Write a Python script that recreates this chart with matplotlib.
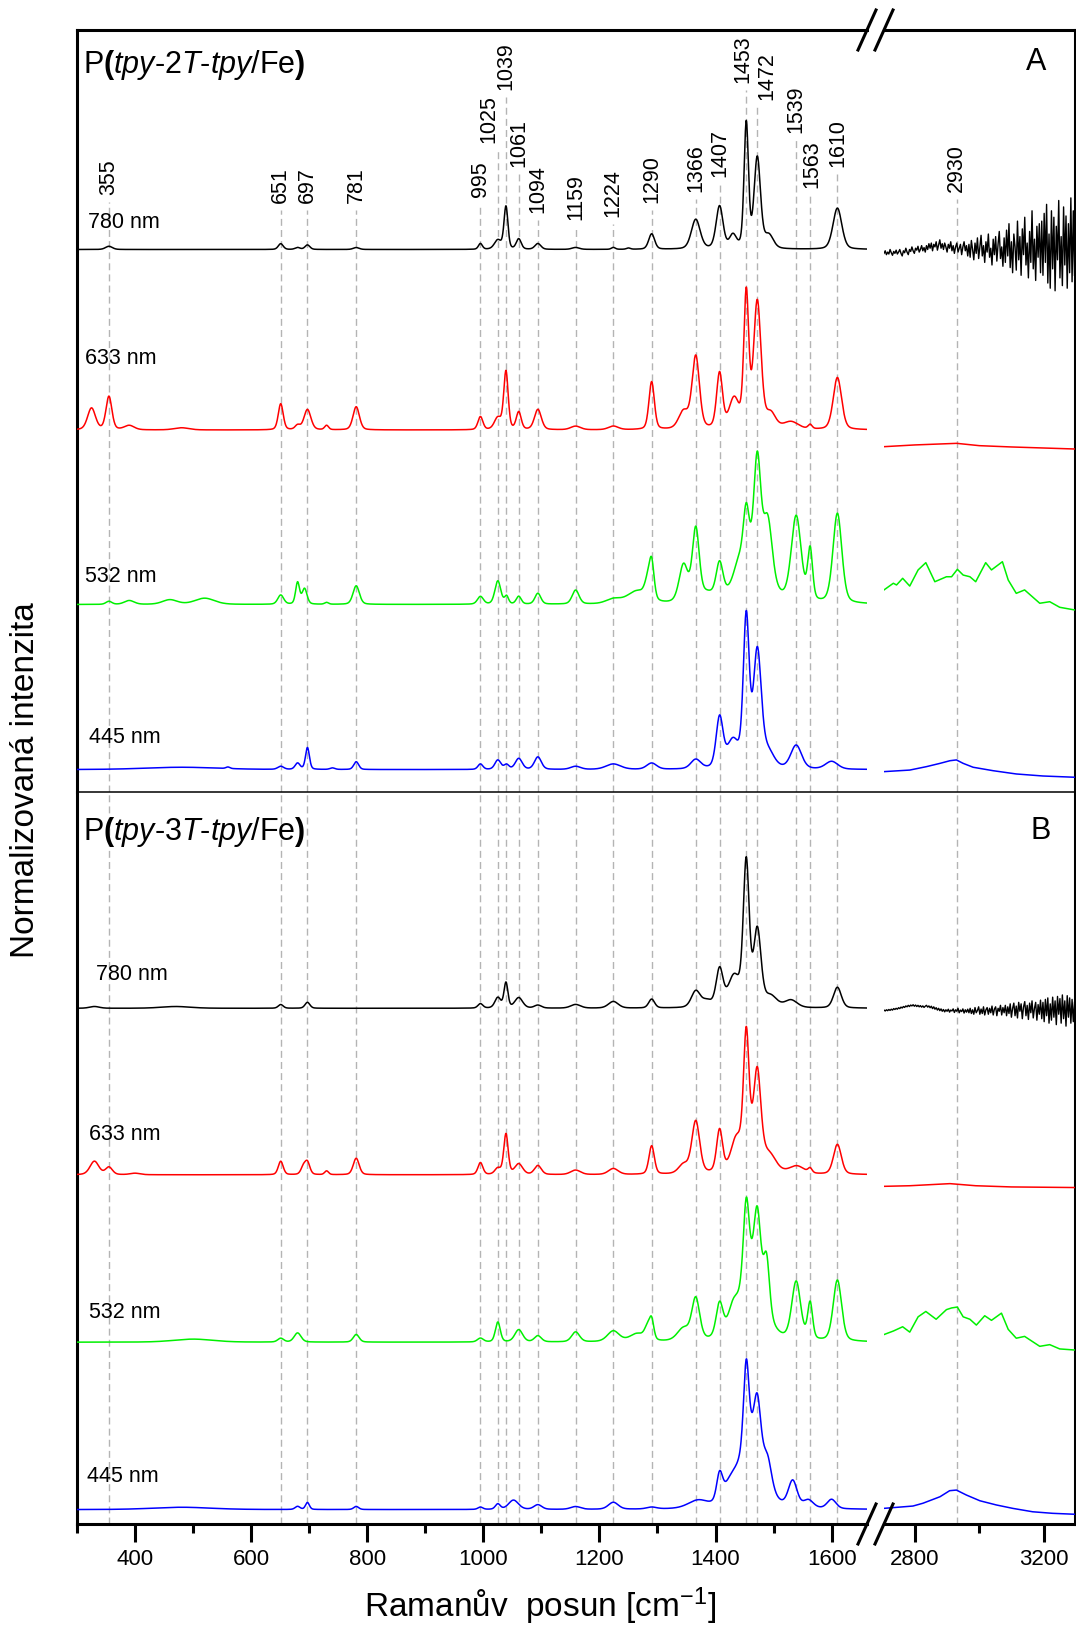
import numpy as np
import matplotlib
matplotlib.use("Agg")
import matplotlib.pyplot as plt
from matplotlib.lines import Line2D

plt.rcParams["font.family"] = ["Liberation Sans", "DejaVu Sans"]
plt.rcParams["mathtext.fontset"] = "custom"
plt.rcParams["mathtext.rm"] = "Liberation Sans"
plt.rcParams["mathtext.it"] = "Liberation Sans:italic"
plt.rcParams["mathtext.bf"] = "Liberation Sans:bold"

# ---------------------------------------------------------------- data
lasers = ["780 nm", "633 nm", "532 nm", "445 nm"]
colors = ["black", "#ff0000", "#00f000", "#0000ff"]

peak_labels = [355, 651, 697, 781, 995, 1025, 1039, 1061, 1094, 1159, 1224,
               1290, 1366, 1407, 1453, 1472, 1539, 1563, 1610]
high_label = 2930

# panel A, P(tpy-2T-tpy/Fe): peak position, height, fwhm
a780_pos = [355, 651, 680, 697, 781, 995, 1025, 1039, 1061, 1094, 1159, 1224, 1250,
            1290, 1366, 1407, 1430, 1453, 1472, 1492, 1610]
a780_h = [0.025, 0.045, 0.015, 0.035, 0.015, 0.045, 0.07, 0.33, 0.08, 0.045, 0.015,
          0.015, 0.01, 0.12, 0.23, 0.33, 0.10, 0.97, 0.70, 0.10, 0.32]
a780_w = [14, 10, 10, 10, 12, 8, 14, 8, 10, 12, 15, 8, 8, 12, 18, 14, 14, 9, 13, 18, 18]

a633_pos = [325, 355, 390, 480, 651, 680, 697, 730, 781, 995, 1025, 1039, 1061, 1094,
            1159, 1224, 1290, 1345, 1366, 1407, 1432, 1453, 1472, 1495, 1530, 1563, 1610]
a633_h = [0.15, 0.23, 0.03, 0.015, 0.18, 0.03, 0.14, 0.03, 0.16, 0.09, 0.08, 0.40, 0.12,
          0.14, 0.025, 0.025, 0.33, 0.12, 0.50, 0.38, 0.20, 0.92, 0.87, 0.10, 0.05, 0.03,
          0.36]
a633_w = [16, 12, 20, 30, 10, 10, 14, 8, 13, 10, 14, 9, 10, 14, 20, 20, 11, 20, 15, 12,
          20, 10, 15, 20, 30, 8, 17]

a532_pos = [355, 390, 460, 520, 651, 680, 692, 730, 781, 995, 1025, 1040, 1061, 1094,
            1159, 1224, 1265, 1283, 1290, 1345, 1366, 1385, 1407, 1440, 1462, 1453, 1472,
            1490, 1539, 1563, 1610]
a532_h = [0.02, 0.025, 0.03, 0.04, 0.06, 0.14, 0.10, 0.012, 0.12, 0.05, 0.15, 0.05, 0.05,
          0.07, 0.09, 0.03, 0.08, 0.10, 0.23, 0.24, 0.46, 0.05, 0.22, 0.10, 0.25, 0.35,
          0.70, 0.40, 0.55, 0.33, 0.58]
a532_w = [12, 20, 30, 40, 12, 8, 10, 8, 13, 12, 12, 8, 10, 12, 14, 30, 40, 12, 10, 18,
          14, 30, 14, 20, 60, 12, 14, 18, 20, 10, 18]

a445_pos = [480, 560, 651, 680, 697, 740, 781, 995, 1025, 1040, 1061, 1094, 1159, 1224,
            1290, 1366, 1407, 1430, 1453, 1472, 1490, 1539, 1600]
a445_h = [0.015, 0.01, 0.02, 0.04, 0.14, 0.01, 0.05, 0.035, 0.06, 0.03, 0.07, 0.08, 0.02,
          0.035, 0.04, 0.06, 0.32, 0.17, 0.95, 0.73, 0.10, 0.15, 0.05]
a445_w = [150, 8, 12, 10, 8, 10, 10, 10, 12, 10, 14, 14, 20, 30, 20, 20, 14, 24, 12, 16,
          25, 22, 25]

# panel B, P(tpy-3T-tpy/Fe)
b780_pos = [330, 470, 651, 697, 995, 1025, 1039, 1061, 1094, 1159, 1224, 1290, 1366,
            1385, 1407, 1432, 1453, 1472, 1495, 1530, 1610]
b780_h = [0.012, 0.012, 0.025, 0.04, 0.03, 0.07, 0.17, 0.07, 0.02, 0.025, 0.045, 0.06,
          0.11, 0.04, 0.25, 0.20, 0.96, 0.51, 0.07, 0.05, 0.14]
b780_w = [20, 60, 10, 10, 10, 12, 8, 16, 14, 20, 20, 12, 18, 20, 14, 24, 12, 15, 25, 25, 16]

b633_pos = [330, 355, 400, 651, 690, 697, 730, 781, 995, 1025, 1039, 1061, 1094, 1159,
            1224, 1290, 1345, 1366, 1407, 1435, 1462, 1453, 1472, 1495, 1540, 1563, 1610]
b633_h = [0.09, 0.05, 0.01, 0.09, 0.05, 0.08, 0.025, 0.11, 0.08, 0.04, 0.27, 0.07, 0.06,
          0.03, 0.04, 0.19, 0.06, 0.35, 0.28, 0.15, 0.18, 0.78, 0.53, 0.07, 0.05, 0.03,
          0.20]
b633_w = [18, 14, 20, 10, 10, 10, 8, 12, 10, 12, 9, 16, 14, 20, 20, 11, 20, 16, 12, 20,
          50, 11, 14, 25, 30, 8, 16]

b532_pos = [500, 651, 680, 781, 995, 1025, 1061, 1094, 1159, 1224, 1265, 1283, 1290,
            1345, 1366, 1407, 1430, 1462, 1453, 1472, 1488, 1539, 1563, 1610]
b532_h = [0.02, 0.025, 0.06, 0.05, 0.025, 0.13, 0.08, 0.04, 0.065, 0.07, 0.05, 0.08,
          0.12, 0.08, 0.27, 0.22, 0.12, 0.40, 0.55, 0.50, 0.35, 0.38, 0.24, 0.40]
b532_w = [80, 12, 14, 12, 12, 10, 16, 14, 16, 24, 30, 12, 9, 25, 16, 14, 20, 50, 12, 14,
          12, 18, 10, 17]

b445_pos = [480, 680, 697, 781, 995, 1025, 1052, 1094, 1159, 1224, 1290, 1370, 1407,
            1425, 1462, 1453, 1472, 1490, 1533, 1560, 1600]
b445_h = [0.015, 0.02, 0.045, 0.02, 0.015, 0.035, 0.06, 0.03, 0.018, 0.045, 0.012, 0.05,
          0.17, 0.10, 0.42, 0.56, 0.35, 0.15, 0.17, 0.05, 0.06]
b445_w = [120, 10, 8, 10, 10, 10, 20, 16, 20, 20, 20, 40, 12, 30, 50, 11, 14, 16, 18, 20,
          18]

# high wavenumber part (2700-3300 cm-1), read point by point
a780_hi = [-0.03, -0.01, -0.04, -0.02, -0.035, 0.0, -0.025, -0.045, -0.015, -0.03,
           -0.005, -0.035, -0.02, 0.0, -0.03, -0.05, -0.01, -0.025, 0.01, -0.02, -0.04,
           0.0, -0.015, 0.02, -0.01, -0.03, 0.01, -0.005, 0.025, -0.02, 0.0, 0.03, -0.01,
           0.015, -0.02,
           0.03, 0.0, 0.045, 0.01, 0.05, -0.01, 0.04, 0.02, 0.06, -0.005, 0.035, 0.075,
           0.01, 0.045, 0.0, 0.05, 0.02, -0.02, 0.04, 0.01, 0.06, -0.01, 0.03, -0.03, 0.02,
           0.05, -0.02, 0.01, 0.04, -0.04, 0.02, 0.06, -0.01, 0.03, -0.05,
           0.04, -0.06, 0.07, 0.0, -0.08, 0.05, -0.03, 0.09, -0.07, 0.02, 0.11, -0.05, 0.03,
           -0.1, 0.06, -0.02, 0.12, -0.06, 0.01, -0.12, 0.08, -0.04, 0.1, -0.09, 0.04, 0.14,
           -0.07, 0.02, -0.13, 0.09,
           -0.1, 0.15, -0.05, 0.2, -0.14, 0.06, -0.18, 0.12, 0.02, -0.16, 0.22, -0.08, 0.1,
           -0.2, 0.16, -0.04, 0.25, -0.12, 0.05, -0.22, 0.14, -0.1, 0.3, -0.15, 0.08, -0.24,
           0.18, -0.06, 0.2, -0.18,
           0.22, -0.2, 0.28, -0.1, 0.35, -0.26, 0.12, -0.3, 0.3, -0.15, 0.25, -0.32, 0.18,
           -0.08, 0.38, -0.22, 0.1, -0.28, 0.33, -0.12, 0.26, -0.3, 0.2, -0.18, 0.4, -0.25,
           0.3, -0.2]
a633_hi_x = [2704, 2800, 2930, 3000, 3100, 3296]
a633_hi = [-0.115, -0.103, -0.092, -0.108, -0.117, -0.131]
a532_hi_x = [2704, 2733, 2743, 2762, 2784, 2810, 2834, 2862, 2898, 2914, 2932, 2950,
             2971, 2989, 3020, 3038, 3072, 3090, 3115, 3141, 3188, 3219, 3250, 3296]
a532_hi = [0.094, 0.137, 0.126, 0.169, 0.119, 0.223, 0.270, 0.147, 0.179, 0.179, 0.227,
           0.190, 0.179, 0.147, 0.270, 0.223, 0.276, 0.158, 0.072, 0.094, 0.008, 0.018,
           -0.018, -0.035]
a445_hi_x = [2704, 2784, 2836, 2878, 2909, 2929, 2950, 2981, 3043, 3115, 3198, 3296]
a445_hi = [-0.013, -0.003, 0.019, 0.040, 0.057, 0.062, 0.040, 0.015, -0.007, -0.028,
           -0.041, -0.049]

b780_hi = [-0.012, -0.018, -0.01, -0.016, -0.008, -0.014, -0.006, -0.012, -0.002, -0.008,
           0.0, -0.006, 0.004, -0.002, 0.008, 0.002, 0.012, 0.006, 0.016, 0.01, 0.02,
           0.012, 0.022, 0.016, 0.024, 0.014, 0.022, 0.012, 0.02, 0.01, 0.018, 0.008,
           0.016, 0.006, 0.014,
           0.02, 0.008, 0.016, 0.004, 0.014, -0.002, 0.01, -0.006, 0.004, -0.012, 0.0,
           -0.016, -0.004, -0.02, -0.008, -0.024, -0.01, -0.02, -0.006, -0.026, -0.012,
           -0.018, -0.004, -0.028, -0.01, -0.02, 0.0, -0.03, -0.012, -0.022, -0.004, -0.032,
           -0.01, -0.026, -0.006,
           -0.03, 0.0, -0.035, -0.01, -0.04, 0.005, -0.03, -0.015, 0.01, -0.04, -0.005,
           -0.035, 0.01, -0.045, -0.01, 0.005, -0.04, 0.0, -0.03, 0.015, -0.045, -0.005,
           0.01, -0.05, 0.0, -0.02, 0.02, -0.045, 0.005, -0.03,
           0.02, -0.05, 0.01, -0.035, 0.03, -0.06, 0.0, 0.035, -0.05, 0.015, -0.065, 0.04,
           -0.02, 0.03, -0.07, 0.01, 0.045, -0.05, 0.02, -0.075, 0.035, -0.03, 0.05, -0.065,
           0.0, 0.04, -0.08, 0.025, -0.04, 0.055,
           -0.07, 0.04, -0.09, 0.06, -0.05, 0.07, -0.1, 0.03, -0.08, 0.075, -0.06, 0.05,
           -0.11, 0.08, -0.04, 0.065, -0.1, 0.09, -0.07, 0.05, -0.12, 0.085, -0.06, 0.07,
           -0.1, 0.06, -0.09, 0.04]
b633_hi_x = [2704, 2784, 2909, 2989, 3100, 3296]
b633_hi = [-0.077, -0.073, -0.059, -0.073, -0.081, -0.085]
b532_hi_x = [2704, 2733, 2762, 2784, 2810, 2834, 2866, 2898, 2914, 2932, 2950, 2971,
             2991, 3017, 3038, 3069, 3090, 3115, 3141, 3188, 3219, 3250, 3296]
b532_hi = [0.050, 0.073, 0.101, 0.066, 0.166, 0.201, 0.150, 0.213, 0.224, 0.230, 0.166,
           0.150, 0.112, 0.173, 0.143, 0.190, 0.084, 0.026, 0.038, -0.027, -0.016, -0.044,
           -0.051]
b445_hi_x = [2704, 2794, 2825, 2878, 2908, 2929, 2960, 3002, 3053, 3104, 3166, 3228, 3296]
b445_hi = [0.008, 0.023, 0.041, 0.083, 0.122, 0.126, 0.094, 0.057, 0.030, 0.008, -0.014,
           -0.024, -0.030]

# ---------------------------------------------------------------- layout (pixels)
W, H = 1076, 1629
FRAME_L, BREAK_L, BREAK_R, FRAME_R = 77, 867, 884, 1074.5
TOP, MID, BOTTOM = 30, 792, 1524
XL = (300, 1661)
XR = (2704, 3296)
PX_PER_CM = (BREAK_L - FRAME_L) / (XL[1] - XL[0])

# baseline y and height of the strongest band, per laser
base_a = [249.5, 430, 604.5, 769.6]
unit_a = [129, 145, 155, 156]
base_b = [1008.3, 1174.8, 1342.2, 1509.6]
unit_b = [148.5, 149.8, 152.9, 155]
laser_xy_a = [(88, 222), (85, 359), (85, 576), (89, 737)]
laser_xy_b = [(96, 975), (89, 1135), (89, 1312), (87, 1476)]

label_bottom = [195, 203, 203, 203, 197, 143, 90, 167, 213, 220, 217, 203, 192, 177,
                83, 100, 133, 188, 167]
label_dx = {1025: -9, 1453: -3, 1472: 10, 1563: 2}
high_label_bottom = 192

GREY = "#b4b4b4"
SMALL = 15.5


def pseudo_voigt(x, pos, height, fwhm, eta=0.3):
    u = ((x - pos) / fwhm) ** 2
    return height * ((1 - eta) * np.exp(-4 * np.log(2) * u) + eta / (1 + 4 * u))


def build_spectrum(x, pos, height, fwhm):
    y = np.zeros_like(x)
    for p, h, w in zip(pos, height, fwhm):
        y += pseudo_voigt(x, p, h, w)
    return y


def px_rect(x0, y0, x1, y1):
    return [x0 / W, 1 - y1 / H, (x1 - x0) / W, (y1 - y0) / H]


def fig_text(x, y, s, **kw):
    return fig.text(x / W, 1 - y / H, s, **kw)


def fig_line(xs, ys, **kw):
    fig.add_artist(Line2D([x / W for x in xs], [1 - y / H for y in ys], **kw))


fig = plt.figure(figsize=(W / 100, H / 100), dpi=100)
x_low = np.arange(XL[0], XL[1] + 0.5, 0.5)

panels = [
    dict(top=TOP, bottom=MID, base=base_a, unit=unit_a, labels=laser_xy_a,
         low=[(a780_pos, a780_h, a780_w), (a633_pos, a633_h, a633_w),
              (a532_pos, a532_h, a532_w), (a445_pos, a445_h, a445_w)],
         high=[(None, a780_hi), (a633_hi_x, a633_hi), (a532_hi_x, a532_hi),
               (a445_hi_x, a445_hi)],
         title=r"P$\mathbf{(}\mathit{tpy}$-$\mathit{2T}$-$\mathit{tpy}$/Fe$\mathbf{)}$",
         letter="A", letter_xy=(1036, 62), title_xy=(83, 65)),
    dict(top=MID, bottom=BOTTOM, base=base_b, unit=unit_b, labels=laser_xy_b,
         low=[(b780_pos, b780_h, b780_w), (b633_pos, b633_h, b633_w),
              (b532_pos, b532_h, b532_w), (b445_pos, b445_h, b445_w)],
         high=[(None, b780_hi), (b633_hi_x, b633_hi), (b532_hi_x, b532_hi),
               (b445_hi_x, b445_hi)],
         title=r"P$\mathbf{(}\mathit{tpy}$-$\mathit{3T}$-$\mathit{tpy}$/Fe$\mathbf{)}$",
         letter="B", letter_xy=(1041, 831), title_xy=(83, 832)),
]

for i, pnl in enumerate(panels):
    top, bottom = pnl["top"], pnl["bottom"]
    height = bottom - top
    axl = fig.add_axes(px_rect(FRAME_L, top, BREAK_L, bottom))
    axr = fig.add_axes(px_rect(BREAK_R, top, FRAME_R, bottom))
    axl.set_xlim(*XL)
    axr.set_xlim(*XR)
    for ax in (axl, axr):
        ax.set_ylim(0, height)
        ax.set_yticks([])
        ax.spines["bottom"].set_visible(i == 1)
        ax.spines["top"].set_visible(i == 0)
        for s in ax.spines.values():
            s.set_linewidth(2.2)
    axl.spines["right"].set_visible(False)
    axr.spines["left"].set_visible(False)

    # dashed guide lines
    for p, lb in zip(peak_labels, label_bottom):
        ytop = height if i == 1 else bottom - (lb + 7)
        axl.plot([p, p], [0, ytop], color=GREY, lw=1.0, ls=(0, (5, 3)), zorder=1)
    ytop = height if i == 1 else bottom - (high_label_bottom + 7)
    axr.plot([high_label, high_label], [0, ytop], color=GREY, lw=1.0,
             ls=(0, (5, 3)), zorder=1)

    # spectra
    for k in range(4):
        off = bottom - pnl["base"][k]
        unit = pnl["unit"][k]
        pos, hgt, fw = pnl["low"][k]
        y_low = build_spectrum(x_low, pos, hgt, fw)
        axl.plot(x_low, off + unit * y_low, color=colors[k], lw=1.1, zorder=3)
        hx, hy = pnl["high"][k]
        if hx is None:
            hx = np.linspace(XR[0], XR[1], len(hy))
            lw = 1.0
        else:
            lw = 1.1
        axr.plot(hx, off + unit * np.asarray(hy), color=colors[k], lw=lw, zorder=3)
        lx, ly = pnl["labels"][k]
        fig_text(lx, ly, lasers[k], fontsize=SMALL, ha="left", va="center")

    fig_text(*pnl["title_xy"], pnl["title"], fontsize=22, ha="left", va="center")
    fig_text(*pnl["letter_xy"], pnl["letter"], fontsize=22, ha="center", va="center")

    if i == 0:
        for p, lb in zip(peak_labels, label_bottom):
            dx = label_dx.get(p, 0) / PX_PER_CM
            axl.text(p + dx, bottom - lb, str(p), rotation=90, ha="center",
                     va="bottom", fontsize=SMALL)
        axr.text(high_label, bottom - high_label_bottom, str(high_label), rotation=90,
                 ha="center", va="bottom", fontsize=SMALL)
        axl.set_xticks([])
        axr.set_xticks([])
    else:
        axl.set_xticks(range(400, 1601, 200))
        axl.set_xticks(range(300, 1601, 200), minor=True)
        axr.set_xticks([2800, 3200])
        axr.set_xticks([3000], minor=True)
        for ax in (axl, axr):
            ax.tick_params(axis="x", which="major", direction="out", length=13,
                           width=2.2, labelsize=16, pad=5)
            ax.tick_params(axis="x", which="minor", direction="out", length=6.5,
                           width=2.2)

# divider between panels
fig_line([FRAME_L, FRAME_R + 1], [MID, MID], color="black", lw=1.1)

# axis break marks
for yb in (TOP, BOTTOM):
    for x0 in (858, 875):
        fig_line([x0, x0 + 18], [yb + 20, yb - 20], color="black", lw=2.2)

fig_text(26, 780, "Normalizovaná intenzita", rotation=90, fontsize=24,
         ha="center", va="center")
fig_text(540, 1606, r"Ramanův  posun [cm$^{-1}$]", fontsize=24, ha="center",
         va="center")

fig.savefig("out.png", dpi=100)
